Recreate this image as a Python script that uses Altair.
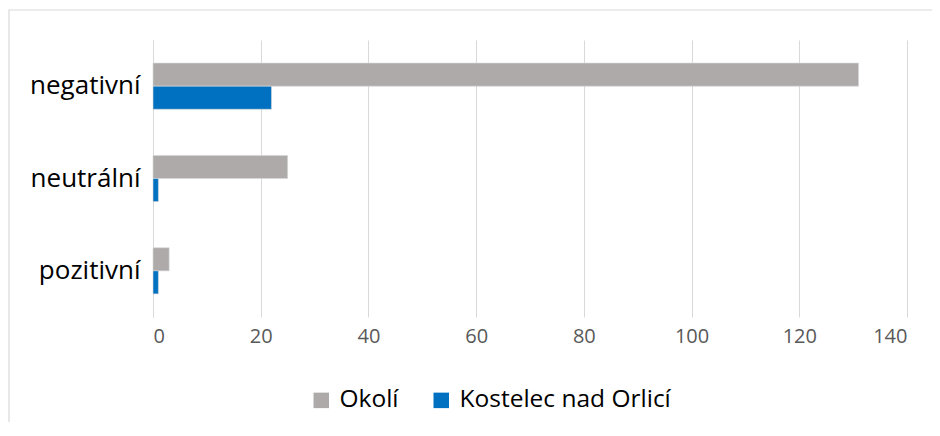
import altair as alt
import pandas as pd

categories = ["negativní", "neutrální", "pozitivní"]
series_names = ["Okolí", "Kostelec nad Orlicí"]
okoli = [131, 25, 3]
kostelec = [22, 1, 1]
colors = ["#AEAAAA", "#0070C0"]

rows = []
for c, a, b in zip(categories, okoli, kostelec):
    rows.append({"kategorie": c, "serie": series_names[0], "hodnota": a})
    rows.append({"kategorie": c, "serie": series_names[1], "hodnota": b})
df = pd.DataFrame(rows)

FONT = "Open Sans"

bars = alt.Chart(df).mark_bar(stroke="#d9d9d9", strokeWidth=0.6).encode(
    y=alt.Y("kategorie:N", sort=categories, title=None,
            scale=alt.Scale(paddingInner=0.5, paddingOuter=0.25),
            axis=alt.Axis(labelFontSize=26, labelColor="#000000", labelFont=FONT,
                          ticks=False, domain=True, domainColor="#d9d9d9",
                          labelPadding=13, grid=False, labelLimit=300)),
    yOffset=alt.YOffset("serie:N", sort=series_names),
    x=alt.X("hodnota:Q", title=None,
            scale=alt.Scale(domain=[0, 140], nice=False),
            axis=alt.Axis(values=[0, 20, 40, 60, 80, 100, 120, 140], labelFontSize=20,
                          labelColor="#595959", labelFont=FONT, ticks=False,
                          domain=False, grid=True, gridColor="#d9d9d9",
                          labelPadding=9)),
    color=alt.Color("serie:N", sort=series_names,
                    scale=alt.Scale(domain=series_names, range=colors),
                    legend=alt.Legend(title=None, orient="none", direction="horizontal",
                                      legendX=156, legendY=348, symbolType="square",
                                      symbolSize=240, symbolStrokeWidth=0,
                                      labelFontSize=24.5, labelFont=FONT,
                                      labelColor="#000000", columnPadding=30,
                                      labelOffset=6, labelLimit=400)),
)

border = alt.Chart(pd.DataFrame({"a": [0]})).mark_rect(
    fill=None, stroke="#d9d9d9", strokeWidth=1.2
).encode(x=alt.value(-144), x2=alt.value(800), y=alt.value(-30), y2=alt.value(420))

chart = alt.layer(border, bars).properties(
    width=754, height=277,
    autosize=alt.AutoSizeParams(type="none"),
    padding={"left": 145, "top": 32, "right": 25, "bottom": 105},
).configure_view(stroke=None)

chart.save("out.html", embed_options={"renderer": "svg", "actions": False})
